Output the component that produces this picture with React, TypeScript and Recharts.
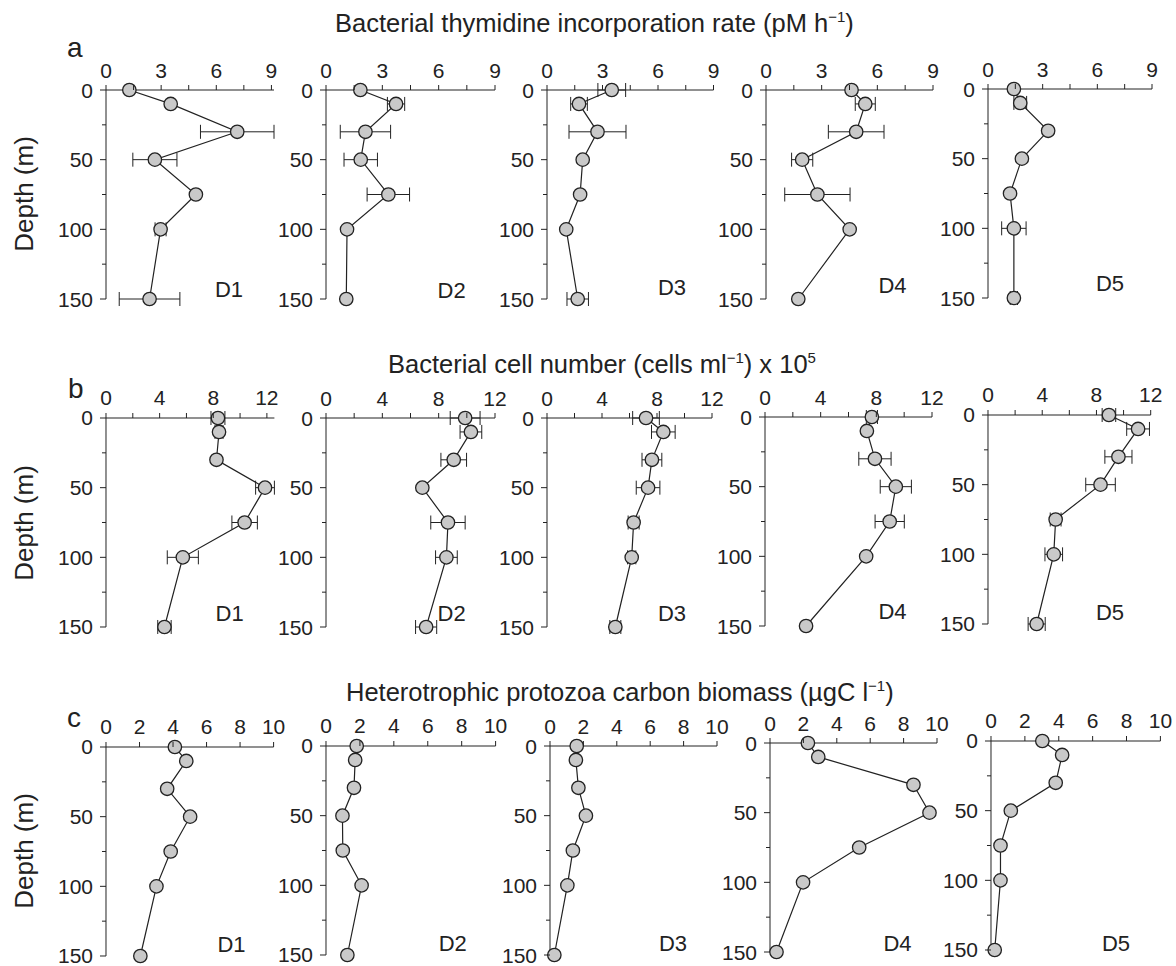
import React from 'react';
import { ScatterChart, Scatter, XAxis, YAxis, ErrorBar } from 'recharts';

const FONT = '"Liberation Sans", Arial, Helvetica, sans-serif';
const INK = '#222';

// depths (m)
const depths = [0, 10, 30, 50, 75, 100, 150];
const depthTicks = [0, 25, 50, 75, 100, 125, 150];

// a: Bacterial thymidine incorporation rate (pM h-1)
const thyTicks = [0, 1.5, 3, 4.5, 6, 7.5, 9];
const thyD1 = [1.27, 3.52, 7.14, 2.66, 4.89, 2.97, 2.37];
const thyD1Err = [0, 0, 2.0, 1.2, 0, 0.3, 1.65];
const thyD2 = [1.83, 3.73, 2.1, 1.85, 3.32, 1.12, 1.08];
const thyD2Err = [0, 0.46, 1.34, 0.89, 1.13, 0, 0];
const thyD3 = [3.5, 1.73, 2.73, 1.93, 1.79, 1.04, 1.66];
const thyD3Err = [0.75, 0.45, 1.54, 0, 0, 0, 0.58];
const thyD4 = [4.61, 5.35, 4.86, 1.95, 2.77, 4.51, 1.74];
const thyD4Err = [0, 0.54, 1.5, 0.57, 1.76, 0, 0];
const thyD5 = [1.42, 1.77, 3.3, 1.86, 1.21, 1.42, 1.42];
const thyD5Err = [0, 0.35, 0, 0, 0, 0.67, 0.2];

// b: Bacterial cell number (cells ml-1) x 10^5
const cellTicks = [0, 2, 4, 6, 8, 10, 12];
const cellD1 = [8.35, 8.43, 8.24, 11.86, 10.34, 5.73, 4.36];
const cellD1Err = [0.52, 0.3, 0, 0.7, 0.95, 1.16, 0.5];
const cellD2 = [9.88, 10.29, 9.07, 6.84, 8.66, 8.55, 7.11];
const cellD2Err = [1.06, 0.77, 0.91, 0, 1.22, 0.77, 0.75];
const cellD3 = [7.2, 8.46, 7.63, 7.35, 6.3, 6.16, 4.97];
const cellD3Err = [0.97, 0.86, 0.72, 0.86, 0.4, 0.3, 0.4];
const cellD4 = [7.68, 7.32, 7.9, 9.4, 8.96, 7.27, 2.95];
const cellD4Err = [0.4, 0, 1.16, 1.12, 1.05, 0, 0];
const cellD5 = [8.92, 11.07, 9.62, 8.3, 4.99, 4.85, 3.59];
const cellD5Err = [0.5, 0.84, 1.0, 1.09, 0.4, 0.65, 0.63];

// c: Heterotrophic protozoa carbon biomass (ugC l-1)
const hpTicks = [0, 2, 4, 6, 8, 10];
const hpD1 = [4.11, 4.79, 3.65, 5.02, 3.86, 3.01, 2.05];
const hpD2 = [1.81, 1.72, 1.65, 0.97, 0.99, 2.1, 1.26];
const hpD3 = [1.6, 1.55, 1.7, 2.15, 1.37, 1.04, 0.26];
const hpD4 = [2.27, 2.89, 8.59, 9.55, 5.34, 1.98, 0.39];
const hpD5 = [3.03, 4.2, 3.82, 1.17, 0.56, 0.56, 0.22];

const stations = ['D1', 'D2', 'D3', 'D4', 'D5'];

const rows = [
  { values: [thyD1, thyD2, thyD3, thyD4, thyD5], errs: [thyD1Err, thyD2Err, thyD3Err, thyD4Err, thyD5Err], max: 9, ticks: thyTicks, step: 3 },
  { values: [cellD1, cellD2, cellD3, cellD4, cellD5], errs: [cellD1Err, cellD2Err, cellD3Err, cellD4Err, cellD5Err], max: 12, ticks: cellTicks, step: 4 },
  { values: [hpD1, hpD2, hpD3, hpD4, hpD5], errs: [null, null, null, null, null], max: 10, ticks: hpTicks, step: 2 },
];

// layout (pixel geometry of each plot area)
const colX0 = [
  [106, 326.4, 546.5, 766, 987.6],
  [105.6, 326.4, 546.5, 765, 987.6],
  [106.4, 326, 550, 770, 990.6],
];
const colW = [
  [168, 169, 166.5, 167, 164],
  [168.4, 169, 165, 167, 162.7],
  [167.6, 169.6, 167, 167, 169.4],
];
const rowY0 = [
  [90, 90, 90, 90, 88.5],
  [418, 418, 418, 417, 415],
  [747, 746, 746, 743, 741],
];
const PLOT_H = 209;
const stationLabelPos = [
  [[229, 297], [451.6, 298], [672, 295], [892.5, 293], [1110, 291]],
  [[229.6, 621], [451.6, 621], [672, 621], [892.5, 619], [1110, 620]],
  [[231.5, 952], [452.7, 951], [673, 951], [897.5, 951], [1116, 951]],
];

const isMult = (v: number, s: number) => Math.abs(v / s - Math.round(v / s)) < 1e-6;

const makeXTick = (step: number) => (p: any) => {
  const v = p.payload.value;
  const major = isMult(v, step);
  return (
    <g>
      <line x1={p.x} x2={p.x} y1={p.y} y2={p.y - 5} stroke={INK} strokeWidth={1} />
      {major && (
        <text x={p.x} y={p.y - 12.5} textAnchor="middle" fontSize={21} fill={INK} fontFamily={FONT}>
          {v}
        </text>
      )}
    </g>
  );
};

const YTick = (p: any) => {
  const v = p.payload.value;
  const major = isMult(v, 50);
  return (
    <g>
      <line x1={p.x - (major ? 6 : 4)} x2={p.x} y1={p.y} y2={p.y} stroke={INK} strokeWidth={1} />
      {major && (
        <text x={p.x - 13} y={p.y + 7.5} textAnchor="end" fontSize={21} fill={INK} fontFamily={FONT}>
          {v}
        </text>
      )}
    </g>
  );
};

const Dot = (p: any) => {
  if (p.cx == null || p.cy == null) return null;
  return <circle cx={p.cx} cy={p.cy} r={6.7} fill="#c9c9c9" stroke={INK} strokeWidth={1.3} />;
};

const PAD_L = 60;
const PAD_T = 45;
const PAD_R = 20;
const PAD_B = 20;

function Panel({ r, c }: { r: number; c: number }) {
  const row = rows[r];
  const vals = row.values[c];
  const errs = row.errs[c];
  const data = depths.map((d, i) => ({
    depth: d,
    v: vals[i],
    err: errs && errs[i] ? errs[i] : undefined,
  }));
  const w = colW[r][c];
  const x0 = colX0[r][c];
  const y0 = rowY0[r][c];
  const width = PAD_L + w + PAD_R;
  const height = PAD_T + PLOT_H + PAD_B;
  return (
    <div style={{ position: 'absolute', left: x0 - PAD_L, top: y0 - PAD_T, width, height }}>
      <ScatterChart width={width} height={height} margin={{ top: PAD_T - 30, right: PAD_R, bottom: PAD_B, left: 0 }}>
        <XAxis
          type="number"
          dataKey="v"
          orientation="top"
          domain={[0, row.max]}
          ticks={row.ticks}
          interval={0}
          height={30}
          tickSize={0}
          tickMargin={0}
          tickLine={false}
          axisLine={{ stroke: INK, strokeWidth: 1 }}
          tick={makeXTick(row.step)}
        />
        <YAxis
          type="number"
          dataKey="depth"
          domain={[0, 150]}
          reversed
          ticks={depthTicks}
          interval={0}
          width={PAD_L}
          tickSize={0}
          tickMargin={0}
          tickLine={false}
          axisLine={{ stroke: INK, strokeWidth: 1 }}
          tick={YTick}
        />
        <Scatter
          data={data}
          line={{ stroke: INK, strokeWidth: 1.2 }}
          shape={Dot}
          isAnimationActive={false}
        >
          {errs && (
            <ErrorBar dataKey="err" direction="x" width={7} stroke={INK} strokeWidth={1} isAnimationActive={false} />
          )}
        </Scatter>
      </ScatterChart>
    </div>
  );
}

const Sup = ({ t }: { t: string }) => (
  <tspan dy={-10} fontSize={15}>{t}</tspan>
);

export default function App() {
  const panels = [];
  for (let r = 0; r < 3; r++) {
    for (let c = 0; c < 5; c++) {
      panels.push(<Panel key={`${r}-${c}`} r={r} c={c} />);
    }
  }
  const depthCenters = [194, 523, 851];
  const TITLE = 25.5;
  return (
    <div style={{ position: 'absolute', left: 0, top: 0, width: 1176, height: 966, background: '#fff', overflow: 'hidden' }}>
      {panels}
      <svg width={1176} height={966} style={{ position: 'absolute', left: 0, top: 0, pointerEvents: 'none' }}>
        <g fontFamily={FONT} fill={INK}>
          <text x={335} y={31.5} fontSize={TITLE}>
            Bacterial thymidine incorporation rate (pM h
            <Sup t="−1" />
            <tspan dy={10}>)</tspan>
          </text>
          <text x={388} y={373} fontSize={TITLE}>
            Bacterial cell number (cells ml
            <Sup t="−1" />
            <tspan dy={10}>) x 10</tspan>
            <Sup t="5" />
          </text>
          <text x={346} y={701} fontSize={TITLE}>
            Heterotrophic protozoa carbon biomass (µgC l
            <Sup t="−1" />
            <tspan dy={10}>)</tspan>
          </text>
          <text x={67} y={57} fontSize={28}>a</text>
          <text x={68} y={398} fontSize={28}>b</text>
          <text x={67} y={727} fontSize={28}>c</text>
          {depthCenters.map((cy, i) => (
            <text key={i} x={32.5} y={cy} fontSize={26} textAnchor="middle" transform={`rotate(-90 32.5 ${cy})`}>
              Depth (m)
            </text>
          ))}
          {stationLabelPos.map((row, r) =>
            row.map(([x, y], c) => (
              <text key={`${r}-${c}`} x={x} y={y} fontSize={22} textAnchor="middle">
                {stations[c]}
              </text>
            ))
          )}
        </g>
      </svg>
    </div>
  );
}
